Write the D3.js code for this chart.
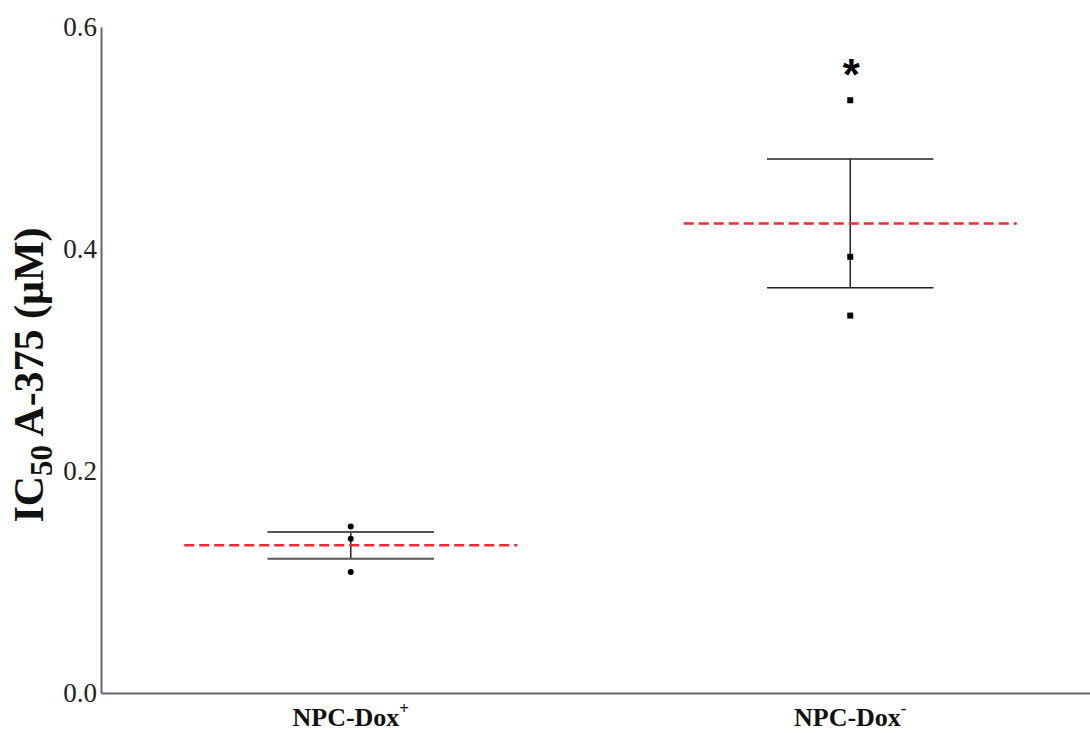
<!DOCTYPE html>
<html>
<head>
<meta charset="utf-8">
<script src="https://cdn.jsdelivr.net/npm/d3@7"></script>
<style>
  body { margin: 0; background: #fff; }
  svg { display: block; font-family: "Liberation Serif", "Times New Roman", serif; }
</style>
</head>
<body>
<svg id="chart" width="1090" height="733"></svg>
<script>
// groups and their data
const groups = ["NPC-Dox+", "NPC-Dox-"];
const groupLabels = [["NPC-Dox", "+"], ["NPC-Dox", "-"]];
const replicates = [
  [0.150, 0.139, 0.109],
  [0.534, 0.393, 0.340]
];
const means = [0.133, 0.423];
const sems = [0.012, 0.058];
const markerShapes = ["circle", "square"];
const significance = ["", "*"];
const yTicks = [0.0, 0.2, 0.4, 0.6];

const svg = d3.select("#chart");
const margin = { left: 101 };

const x = d3.scaleBand().domain(groups).range([101, 1100]).padding(0);
const y = d3.scaleLinear().domain([0, 0.6]).range([693, 27]);

// axes
const yAxis = svg.append("g")
  .attr("transform", `translate(${margin.left},0)`)
  .call(d3.axisLeft(y).tickValues(yTicks).tickFormat(d3.format(".1f")).tickSize(0).tickPadding(4));
yAxis.attr("font-family", null).attr("font-size", null);
yAxis.select(".domain").attr("stroke", "#666").attr("stroke-width", 2);
yAxis.selectAll("text")
  .attr("font-size", 27)
  .attr("fill", "#222");

const xAxis = svg.append("g")
  .attr("transform", `translate(0,${y(0)})`)
  .call(d3.axisBottom(x).tickSize(0).tickFormat(""));
xAxis.select(".domain").attr("stroke", "#666").attr("stroke-width", 2);

// x labels with superscripts
groups.forEach((g, i) => {
  const t = svg.append("text")
    .attr("x", x(g) + x.bandwidth() / 2)
    .attr("y", 726)
    .attr("text-anchor", "middle")
    .attr("font-size", 26)
    .attr("font-weight", "bold")
    .attr("fill", "#111");
  t.append("tspan").text(groupLabels[i][0]);
  t.append("tspan")
    .attr("dy", -12)
    .attr("font-size", 17)
    .text(groupLabels[i][1]);
});

// y axis title
const yt = svg.append("text")
  .attr("transform", "translate(43,375) rotate(-90)")
  .attr("text-anchor", "middle")
  .attr("font-size", 42)
  .attr("font-weight", "bold")
  .attr("fill", "#111");
yt.append("tspan").text("IC");
yt.append("tspan").attr("dy", 9).attr("font-size", 31).text("50");
yt.append("tspan").attr("dy", -9).text(" A-375 (\u03BCM)");

// error bars, mean lines, points
groups.forEach((g, i) => {
  const cx = x(g) + x.bandwidth() / 2;
  const bw = x.bandwidth();
  const lo = means[i] - sems[i], hi = means[i] + sems[i];

  svg.append("line")
    .attr("x1", cx).attr("x2", cx)
    .attr("y1", y(hi)).attr("y2", y(lo))
    .attr("stroke", "#222").attr("stroke-width", 1.5);

  [lo, hi].forEach(v => {
    svg.append("line")
      .attr("x1", cx - bw / 6).attr("x2", cx + bw / 6)
      .attr("y1", y(v)).attr("y2", y(v))
      .attr("stroke", i === 0 ? "#555" : "#222")
      .attr("stroke-width", i === 0 ? 2 : 1.5);
  });

  svg.append("line")
    .attr("x1", cx - bw / 3).attr("x2", cx + bw / 3)
    .attr("y1", y(means[i])).attr("y2", y(means[i]))
    .attr("stroke", "#ee2a35").attr("stroke-width", 2.5)
    .attr("stroke-dasharray", "10,5");

  replicates[i].forEach(v => {
    if (markerShapes[i] === "circle") {
      svg.append("circle")
        .attr("cx", cx).attr("cy", y(v)).attr("r", 3)
        .attr("fill", "#000");
    } else {
      svg.append("rect")
        .attr("x", cx - 3).attr("y", y(v) - 3)
        .attr("width", 6).attr("height", 6)
        .attr("fill", "#000");
    }
  });

  if (significance[i]) {
    svg.append("text")
      .attr("x", cx + 1).attr("y", y(d3.max(replicates[i])) - 10)
      .attr("text-anchor", "middle")
      .attr("font-family", "Liberation Sans, Arial, sans-serif")
      .attr("font-size", 44)
      .attr("font-weight", "bold")
      .attr("fill", "#000")
      .text(significance[i]);
  }
});
</script>
</body>
</html>
